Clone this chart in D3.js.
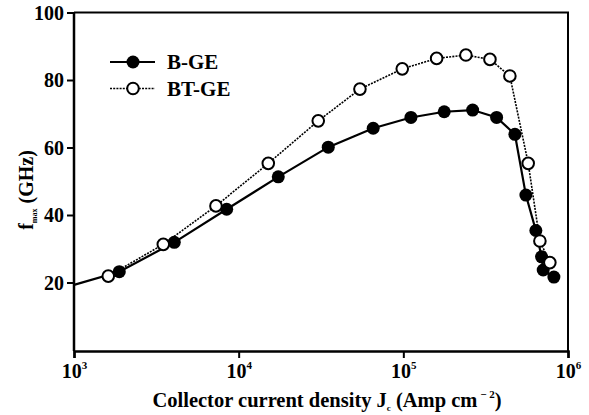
<!DOCTYPE html>
<html>
<head>
<meta charset="utf-8">
<script src="https://cdn.jsdelivr.net/npm/d3@7"></script>
<style>
  body { margin: 0; background: #fff; }
  svg { display: block; }
</style>
</head>
<body>
<svg id="chart" width="589" height="415"></svg>
<script>
// data (Jc in A/cm^2, fmax in GHz)
const bgeJc  = [1000, 1884, 4064, 8455, 17400, 35000, 65600, 111200, 177100, 263600, 368500, 476000, 555000, 638000, 691000, 707000, 821000];
const bgeF   = [19.3, 23.2, 31.9, 41.7, 51.3, 60.1, 65.7, 68.9, 70.6, 71.1, 68.9, 63.9, 45.9, 35.4, 27.6, 23.7, 21.6];
const btgeJc = [1615, 3485, 7280, 15130, 30430, 54500, 98500, 159300, 239900, 335700, 443600, 573200, 675000, 776000];
const btgeF  = [21.9, 31.3, 42.7, 55.3, 67.9, 77.3, 83.3, 86.4, 87.4, 86.1, 81.2, 55.3, 32.3, 25.9];
const xTicks = [1e3, 1e4, 1e5, 1e6];
const yTicks = [20, 40, 60, 80, 100];
const seriesNames = ["B-GE", "BT-GE"];

const svg = d3.select("#chart");
const pLeft = 74, pRight = 568, pTop = 12.5, pBottom = 350;

const x = d3.scaleLog().domain([1e3, 1e6]).range([pLeft, pRight]);
const y = d3.scaleLinear().domain([0, 100]).range([pBottom, pTop]);

function serif(sel, size) {
  return sel.attr("font-family", null)
    .style("font-family", '"Liberation Serif"').style("font-weight", "bold")
    .style("font-size", size + "px").attr("fill", "#000");
}

// frame (top and right)
svg.append("path")
  .attr("d", `M${pLeft},${pTop}H${pRight}V${pBottom + 1}`)
  .attr("fill", "none").attr("stroke", "#000").attr("stroke-width", 2);

// x axis
const xAxis = svg.append("g").attr("transform", `translate(0,${pBottom + 1})`)
  .call(d3.axisBottom(x).tickValues(xTicks).tickSize(7).tickFormat(""))
  .attr("font-family", null);
xAxis.select(".domain").attr("stroke-width", 2.5);
xAxis.selectAll(".tick line").attr("stroke-width", 2);
xAxis.selectAll(".tick").append("text")
  .attr("y", 27).attr("text-anchor", "middle").call(serif, 20)
  .each(function(d) {
    const t = d3.select(this);
    t.append("tspan").text("10");
    t.append("tspan").attr("dy", -9).style("font-size", "11px").text(Math.round(Math.log10(d)));
  });

// y axis
const yAxis = svg.append("g").attr("transform", `translate(${pLeft},0)`)
  .call(d3.axisLeft(y).tickValues(yTicks).tickSize(7).tickPadding(3))
  .attr("font-family", null);
yAxis.select(".domain").attr("stroke-width", 2.5).attr("d", `M0,${pBottom + 1}V${pTop}`);
yAxis.selectAll(".tick line").attr("stroke-width", 2);
yAxis.selectAll(".tick text").call(serif, 20).attr("dy", "0.34em");

// axis titles
const xt = svg.append("text").attr("x", 327).attr("y", 407).attr("text-anchor", "middle").call(serif, 20.5);
xt.append("tspan").text("Collector current density J");
xt.append("tspan").attr("dy", 4).style("font-size", "9px").text("c");
xt.append("tspan").attr("dy", -4).text(" (Amp cm");
xt.append("tspan").attr("dy", -9).style("font-size", "11px").text(" \u2212 2");
xt.append("tspan").attr("dy", 9).text(")");

const yt = svg.append("text").attr("transform", "translate(33,190) rotate(-90)")
  .attr("text-anchor", "middle").call(serif, 20);
yt.append("tspan").text("f");
yt.append("tspan").attr("dy", 4).style("font-size", "8px").text("max");
yt.append("tspan").attr("dy", -4).text(" (GHz)");

// series
const line = d3.line().x(d => x(d[0])).y(d => y(d[1]));
const bge = bgeJc.map((v, i) => [v, bgeF[i]]);
const btge = btgeJc.map((v, i) => [v, btgeF[i]]);

svg.append("path").datum(btge).attr("d", line)
  .attr("fill", "none").attr("stroke", "#000").attr("stroke-width", 1.6).attr("stroke-dasharray", "2,1.2");
svg.append("path").datum(bge).attr("d", line)
  .attr("fill", "none").attr("stroke", "#000").attr("stroke-width", 2.2);

// markers (first B-GE point is the line start only)
svg.append("g").selectAll("circle").data(btge.slice(0, 1)).join("circle")
  .attr("cx", d => x(d[0])).attr("cy", d => y(d[1])).attr("r", 5.8)
  .attr("fill", "#fff").attr("stroke", "#000").attr("stroke-width", 2);
svg.append("g").selectAll("circle").data(bge.slice(1)).join("circle")
  .attr("cx", d => x(d[0])).attr("cy", d => y(d[1])).attr("r", 6.5)
  .attr("fill", "#000");
svg.append("g").selectAll("circle").data(btge.slice(1)).join("circle")
  .attr("cx", d => x(d[0])).attr("cy", d => y(d[1])).attr("r", 5.8)
  .attr("fill", "#fff").attr("stroke", "#000").attr("stroke-width", 2);

// legend
const legend = svg.append("g");
seriesNames.forEach((name, i) => {
  const ly = 62 + i * 26.5;
  legend.append("line").attr("x1", 110).attr("x2", 155).attr("y1", ly).attr("y2", ly)
    .attr("stroke", "#000").attr("stroke-width", i ? 1.6 : 2.2)
    .attr("stroke-dasharray", i ? "2,1.2" : null);
  legend.append("circle").attr("cx", 133).attr("cy", ly).attr("r", i ? 5.8 : 6.5)
    .attr("fill", i ? "#fff" : "#000").attr("stroke", i ? "#000" : "none").attr("stroke-width", 2);
  legend.append("text").attr("x", 167).attr("y", ly + 7).call(serif, 21).text(name);
});
</script>
</body>
</html>
